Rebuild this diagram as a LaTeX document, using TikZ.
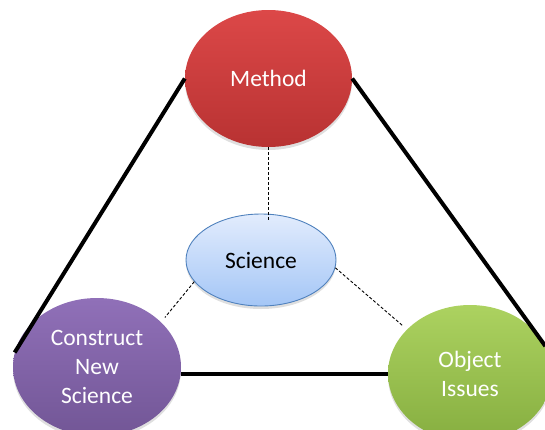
\documentclass[tikz,border=0pt]{standalone}
\usepackage{fontspec}
\setmainfont{Carlito}
\usetikzlibrary{shapes.geometric,shadows,calc}
\definecolor{redtop}{RGB}{220,72,72}
\definecolor{redbot}{RGB}{184,50,50}
\definecolor{purtop}{RGB}{144,112,184}
\definecolor{purbot}{RGB}{114,86,150}
\definecolor{grntop}{RGB}{172,210,96}
\definecolor{grnbot}{RGB}{134,174,64}
\definecolor{blutop}{RGB}{226,236,253}
\definecolor{blubot}{RGB}{164,198,246}
\definecolor{bluline}{RGB}{79,129,189}
\tikzset{
  bubble/.style={ellipse, inner sep=0pt, align=center, text=white,
    font=\fontsize{23.5}{29}\selectfont,
    drop shadow={opacity=0.25, shadow xshift=0pt, shadow yshift=-3pt}},
  frame/.style={line width=4pt, black},
  link/.style={line width=0.9pt, black, dash pattern=on 3pt off 2pt}
}
\begin{document}
\begin{tikzpicture}[x=1pt,y=-1pt]
\useasboundingbox (0,0) rectangle (545,429);
\clip (0,0) rectangle (545,429);
\node[bubble, minimum width=167pt, minimum height=137pt, top color=redtop, bottom color=redbot] (method) at (268.5,78.5) {Method};
\node[bubble, minimum width=168pt, minimum height=138pt, top color=purtop, bottom color=purbot] (construct) at (97,367) {Construct\\New\\Science};
\node[bubble, minimum width=164pt, minimum height=137pt, top color=grntop, bottom color=grnbot] (object) at (470,373.5) {Object\\Issues};
\node[bubble, minimum width=150pt, minimum height=92pt, top color=blutop, bottom color=blubot, draw=bluline, line width=0.9pt, text=black] (science) at (261,260) {Science};
\draw[frame] (method.west) -- (construct.170);
\draw[frame] (method.east) -- (object.20);
\draw[frame] (object.west) -- (object.west -| construct.east);
\draw[link] (method.south) -- ($(method.south |- science.north)+(0,7)$);
\draw[link, shorten >=6pt] (science.198) -- (construct.35);
\draw[link, shorten >=5pt] (science.-6) -- (object.145);
\end{tikzpicture}
\end{document}
